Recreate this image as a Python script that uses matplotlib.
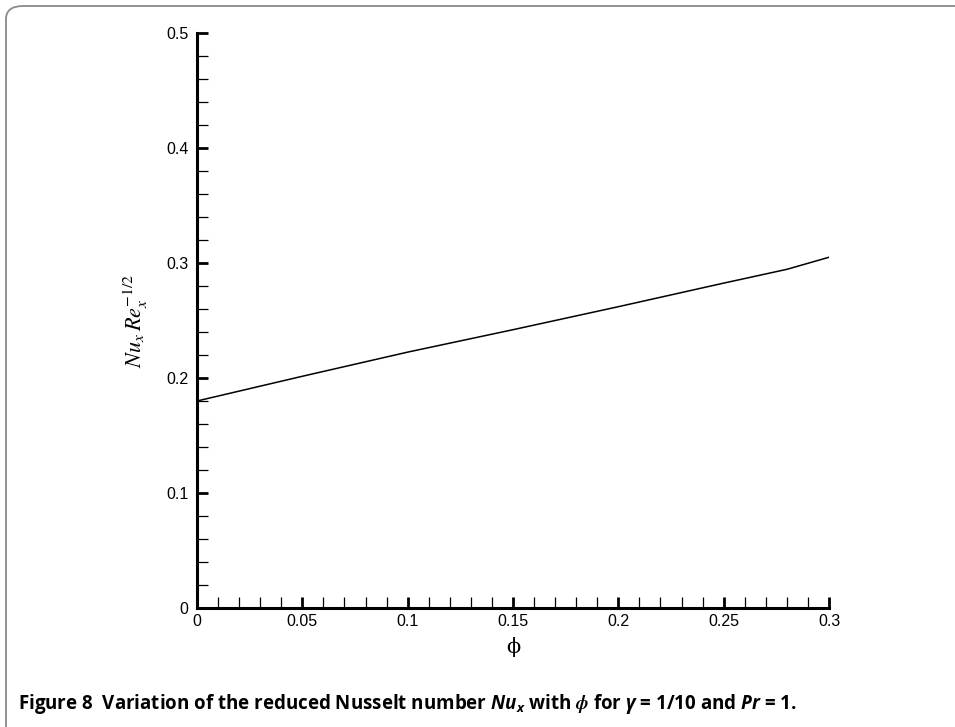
import matplotlib
matplotlib.use("Agg")
import matplotlib.pyplot as plt
from matplotlib.patches import FancyBboxPatch
from matplotlib.ticker import MultipleLocator

# ── data ──────────────────────────────────────────────────
phi   = [0.0, 0.05, 0.10, 0.15, 0.20, 0.25, 0.28, 0.30]
nu_re = [0.180, 0.2015, 0.2225, 0.2420, 0.2620, 0.2825, 0.2945, 0.3050]

x_ticks = [0, 0.05, 0.1, 0.15, 0.2, 0.25, 0.3]
x_tick_labels = ["0", "0.05", "0.1", "0.15", "0.2", "0.25", "0.3"]
y_ticks = [0, 0.1, 0.2, 0.3, 0.4, 0.5]
y_tick_labels = ["0", "0.1", "0.2", "0.3", "0.4", "0.5"]

caption = (r"Figure 8  Variation of the reduced Nusselt number "
           r"$\mathbfit{Nu}_{\mathbfit{x}}$ with $\mathbfit{\phi}$ for "
           r"$\mathbfit{\gamma}$ = 1/10 and $\mathbfit{Pr}$ = 1.")

CAP_FONT = "Open Sans"
plt.rcParams["font.family"] = ["Liberation Sans", "DejaVu Sans"]
plt.rcParams["mathtext.fontset"] = "custom"
plt.rcParams["mathtext.rm"] = CAP_FONT + ":bold"
plt.rcParams["mathtext.bf"] = CAP_FONT + ":bold"
plt.rcParams["mathtext.bfit"] = CAP_FONT + ":bold:italic"
plt.rcParams["mathtext.it"] = CAP_FONT + ":bold:italic"

W, H = 955, 727
fig = plt.figure(figsize=(W / 100, H / 100), dpi=100)

# rounded border of the figure panel
box = FancyBboxPatch((6 / W, -30 / H), (W + 40) / W, (H + 30 - 6) / H,
                     boxstyle="round,pad=0,rounding_size=0.018",
                     transform=fig.transFigure, fill=False,
                     edgecolor="#8a8a8a", linewidth=1.3)
fig.patches.append(box)

ax = fig.add_axes([197 / W, 1 - 608 / H, (829 - 197) / W, (608 - 33) / H])
ax.plot(phi, nu_re, color="black", linewidth=1.1)

ax.set_xlim(0, 0.3)
ax.set_ylim(0, 0.5)
ax.set_xticks(x_ticks)
ax.set_xticklabels(x_tick_labels)
ax.set_yticks(y_ticks)
ax.set_yticklabels(y_tick_labels)
ax.xaxis.set_minor_locator(MultipleLocator(0.01))
ax.yaxis.set_minor_locator(MultipleLocator(0.02))

for s in ["top", "right"]:
    ax.spines[s].set_visible(False)
for s in ["left", "bottom"]:
    ax.spines[s].set_linewidth(2.2)

ax.tick_params(which="major", direction="in", length=8, width=2.0,
               labelsize=11.5, top=False, right=False)
ax.tick_params(which="minor", direction="in", length=8, width=0.9,
               top=False, right=False)
ax.tick_params(axis="y", which="major", pad=6)
ax.tick_params(axis="x", which="major", pad=4)

ax.set_xlabel("ϕ", fontfamily="DejaVu Serif", fontsize=15, labelpad=6)
ax.set_ylabel(r"$Nu_x\,Re_x^{-1/2}$", fontsize=16, math_fontfamily="stix",
              labelpad=12)

fig.text(18 / W, 1 - 704 / H, caption, fontfamily=CAP_FONT,
         fontweight="bold", fontsize=13.5, va="center", ha="left")

fig.savefig("out.png", dpi=100)
